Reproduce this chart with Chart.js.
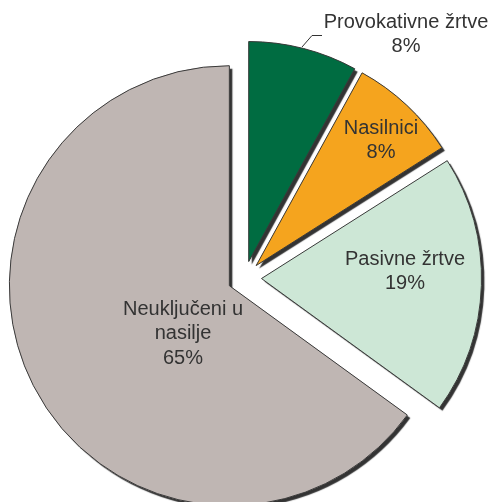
<!DOCTYPE html>
<html>
<head>
<meta charset="utf-8">
<script src="https://cdn.jsdelivr.net/npm/chart.js@4/dist/chart.umd.min.js"></script>
<style>
  html, body { margin: 0; padding: 0; background: #fff; }
  #wrap { width: 491px; height: 502px; position: relative; }
</style>
</head>
<body>
<div id="wrap"><canvas id="pieChart"></canvas></div>
<script>
// data
const categories = ["Provokativne žrtve", "Nasilnici", "Pasivne žrtve", "Neuključeni u nasilje"];
const shares = [8, 8, 19, 65];
const labelLines = [
  ["Provokativne žrtve", "8%"],
  ["Nasilnici", "8%"],
  ["Pasivne žrtve", "19%"],
  ["Neuključeni u", "nasilje", "65%"]
];
const colors = ["#006c41", "#f5a41e", "#cde7d6", "#bfb6b3"];

// where the labels sit (centre of each text block, first line)
const labelPos = [[406, 22], [381, 128], [405, 259], [183, 309]];
const EXPLODE = 17;

// push every slice out along its bisector
const explode = {
  id: "explode",
  afterDatasetUpdate(chart, args) {
    args.meta.data.forEach(arc => {
      const mid = (arc.startAngle + arc.endAngle) / 2;
      arc.x += Math.cos(mid) * EXPLODE;
      arc.y += Math.sin(mid) * EXPLODE;
    });
  }
};

// dark drop shadow to lower right, drawn as a separate pass under the slices
const shadow = {
  id: "shadow",
  beforeDatasetDraw(chart, args) {
    const ctx = chart.ctx;
    args.meta.data.forEach(arc => {
      const bw = arc.options.borderWidth;
      ctx.save();
      ctx.shadowColor = "#333333";
      ctx.shadowOffsetX = 3;
      ctx.shadowOffsetY = 3;
      ctx.shadowBlur = 1;
      arc.options.borderWidth = 0;
      arc.draw(ctx);
      arc.options.borderWidth = bw;
      ctx.restore();
    });
  }
};

const sliceLabels = {
  id: "sliceLabels",
  afterDatasetsDraw(chart) {
    const ctx = chart.ctx;
    ctx.save();
    ctx.fillStyle = "#333333";
    ctx.font = "20px 'Liberation Sans', Arial, sans-serif";
    ctx.textAlign = "center";
    ctx.textBaseline = "middle";
    labelLines.forEach((lines, i) => {
      const [x, y] = labelPos[i];
      lines.forEach((t, j) => ctx.fillText(t, x, y + j * 24.5));
    });
    // leader line for the outside label
    ctx.strokeStyle = "#333333";
    ctx.lineWidth = 1;
    ctx.beginPath();
    ctx.moveTo(302, 47);
    ctx.lineTo(312, 35.5);
    ctx.lineTo(322, 35.5);
    ctx.stroke();
    ctx.restore();
  }
};

new Chart(document.getElementById("pieChart"), {
  type: "pie",
  data: {
    labels: categories,
    datasets: [{
      data: shares,
      backgroundColor: colors,
      borderColor: "#3a3a3a",
      borderWidth: 1
    }]
  },
  options: {
    responsive: true,
    maintainAspectRatio: false,
    animation: false,
    events: [],
    radius: 220,
    layout: { padding: { left: 0, right: 2, top: 54, bottom: 0 } },
    plugins: {
      legend: { display: false },
      tooltip: { enabled: false }
    }
  },
  plugins: [explode, shadow, sliceLabels]
});
</script>
</body>
</html>
